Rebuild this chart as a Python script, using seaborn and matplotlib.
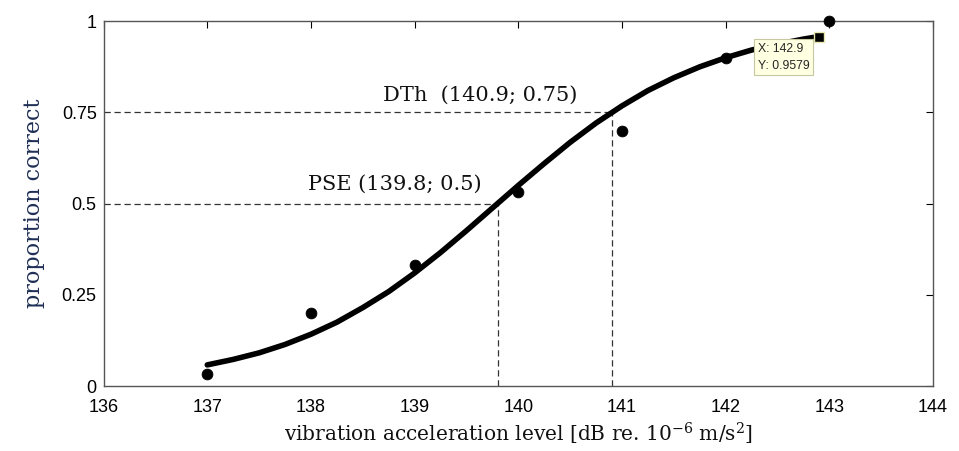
import matplotlib
matplotlib.use("Agg")
import matplotlib.pyplot as plt
import seaborn as sns
import pandas as pd

# Measured data points
level = [137, 138, 139, 140, 141, 142, 143]
prop_correct = [0.033, 0.20, 0.333, 0.533, 0.70, 0.90, 1.00]

# Fitted psychometric curve
curve_x = [137.0, 137.25, 137.5, 137.75, 138.0, 138.25, 138.5, 138.75, 139.0,
           139.25, 139.5, 139.75, 140.0, 140.25, 140.5, 140.75, 141.0, 141.25,
           141.5, 141.75, 142.0, 142.25, 142.5, 142.75, 142.9]
curve_y = [0.058, 0.073, 0.091, 0.114, 0.142, 0.175, 0.215, 0.259, 0.310,
           0.366, 0.426, 0.488, 0.550, 0.610, 0.668, 0.721, 0.768, 0.810,
           0.845, 0.875, 0.900, 0.921, 0.937, 0.951, 0.958]

pse = (139.8, 0.5)
dth = (140.9, 0.75)
tip = (142.9, 0.9579)

x_ticks = [136, 137, 138, 139, 140, 141, 142, 143, 144]
y_ticks = [0, 0.25, 0.5, 0.75, 1]
y_tick_labels = ["0", "0.25", "0.5", "0.75", "1"]

sns.set_theme(style="white")
plt.rcParams["font.family"] = ["Liberation Sans", "DejaVu Sans"]
plt.rcParams["mathtext.fontset"] = "dejavuserif"

fig = plt.figure(figsize=(9.59, 4.51), dpi=100)
ax = fig.add_axes([0.108, 0.144, 0.865, 0.809])

pts = pd.DataFrame({"x": level, "y": prop_correct})
crv = pd.DataFrame({"x": curve_x, "y": curve_y})

# guide lines
dash_kw = dict(color="#333333", lw=0.9, ls=(0, (5, 3)), zorder=1)
ax.plot([136, dth[0]], [dth[1], dth[1]], **dash_kw)
ax.plot([dth[0], dth[0]], [0, dth[1]], **dash_kw)
ax.plot([136, pse[0]], [pse[1], pse[1]], **dash_kw)
ax.plot([pse[0], pse[0]], [0, pse[1]], **dash_kw)

sns.lineplot(data=crv, x="x", y="y", ax=ax, color="black", lw=4.0,
             sort=False, zorder=3)
sns.scatterplot(data=pts, x="x", y="y", ax=ax, color="black", s=60,
                edgecolor="black", zorder=4, clip_on=False)

# data tip
ax.plot([tip[0]], [tip[1]], marker="s", ms=7, color="black",
        markeredgecolor="#e8e8b0", zorder=5)
ax.text(142.31, 0.94, f"X: {tip[0]}\nY: {tip[1]}",
        fontsize=8.8, va="top", ha="left", linespacing=1.5,
        bbox=dict(boxstyle="square,pad=0.3", fc="#ffffe1", ec="#c8c8a0", lw=0.8),
        zorder=6)

serif = ["DejaVu Serif"]
ax.text(137.97, 0.528, "PSE (139.8; 0.5)", family=serif, fontsize=15,
        ha="left", va="bottom", color="#111111")
ax.text(138.69, 0.772, "DTh  (140.9; 0.75)", family=serif, fontsize=15,
        ha="left", va="bottom", color="#111111")

ax.set_xlim(136, 144)
ax.set_ylim(0, 1)
ax.set_xticks(x_ticks)
ax.set_yticks(y_ticks)
ax.set_yticklabels(y_tick_labels)
ax.tick_params(direction="in", length=5, width=0.8, labelsize=13,
               top=True, right=True, colors="black", pad=5)
ax.tick_params(axis="x", pad=9)
for s in ax.spines.values():
    s.set_color("#555555")
    s.set_linewidth(1.0)

ax.set_xlabel("vibration acceleration level [dB re. 10$^{-6}$ m/s$^{2}$]",
              family=serif, fontsize=14.5, color="#111111", labelpad=4)
ax.set_ylabel("proportion correct", family=serif, fontsize=16,
              color="#1f2f55", labelpad=12)

fig.savefig("out.png", dpi=100)
